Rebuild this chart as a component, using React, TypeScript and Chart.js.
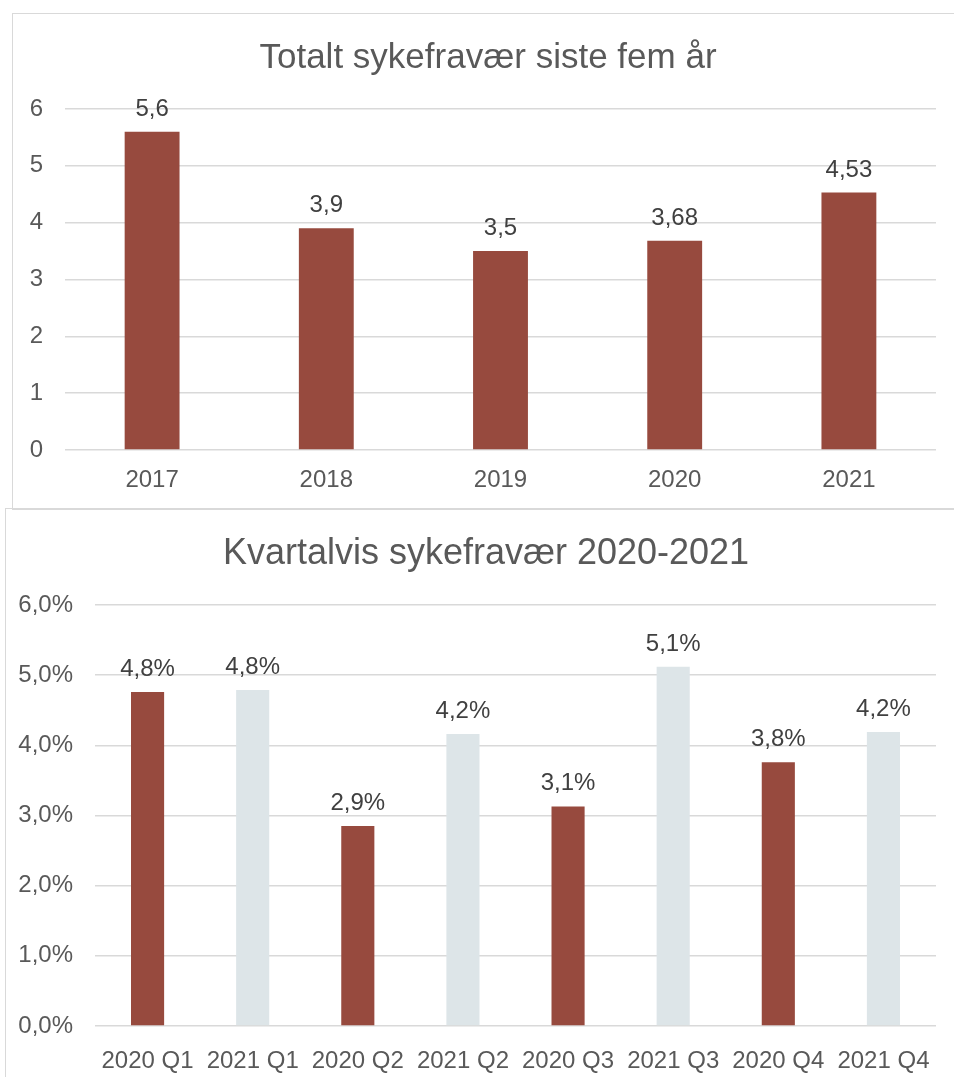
import React, { useEffect, useRef } from 'react';
import { Chart, registerables } from 'chart.js';

Chart.register(...registerables);

const FONT = '"Liberation Sans", Arial, sans-serif';
const TEXT = '#595959';
const LABEL = '#404040';
const GRID = '#D9D9D9';
const RED = '#974A3E';
const LIGHT = '#DDE5E8';

// ---- Chart 1 data ----
const yearTitle = 'Totalt sykefravær siste fem år';
const years = ['2017', '2018', '2019', '2020', '2021'];
const yearValues = [5.6, 3.9, 3.5, 3.68, 4.53];
const yearTicks = [0, 1, 2, 3, 4, 5, 6];

// ---- Chart 2 data ----
const quarterTitle = 'Kvartalvis sykefravær 2020-2021';
const quarters = ['2020 Q1', '2021 Q1', '2020 Q2', '2021 Q2', '2020 Q3', '2021 Q3', '2020 Q4', '2021 Q4'];
const quarterValues = [4.76, 4.79, 2.85, 4.16, 3.13, 5.12, 3.76, 4.19];
const quarterYears = ['2020', '2021', '2020', '2021', '2020', '2021', '2020', '2021'];

const comma = (v: number) => String(v).replace('.', ',');
const pct = (v: number) => v.toFixed(1).replace('.', ',') + '%';

const labelPlugin = {
  id: 'barLabels',
  afterDatasetsDraw(chart: any, _args: any, opts: any) {
    const { ctx } = chart;
    const meta = chart.getDatasetMeta(0);
    ctx.save();
    ctx.font = `24px ${FONT}`;
    ctx.fillStyle = LABEL;
    ctx.textAlign = 'center';
    ctx.textBaseline = 'alphabetic';
    meta.data.forEach((bar: any, i: number) => {
      ctx.fillText(opts.labels[i], bar.x, bar.y - opts.offset);
    });
    ctx.restore();
  },
};

const titlePlugin = {
  id: 'customTitle',
  afterDraw(chart: any, _args: any, opts: any) {
    const { ctx } = chart;
    ctx.save();
    ctx.font = `${opts.size}px ${FONT}`;
    ctx.fillStyle = TEXT;
    ctx.textAlign = 'center';
    ctx.textBaseline = 'alphabetic';
    ctx.fillText(opts.text, opts.x, opts.y);
    ctx.restore();
  },
};

function makeConfig(p: {
  labels: string[];
  values: number[];
  colors: string[];
  dataLabels: string[];
  tickFormat: (v: number) => string;
  title: string;
  titleSize: number;
  titleX: number;
  yWidth: number;
  xHeight: number;
  yPad: number;
  xPad: number;
}): any {
  return {
    type: 'bar',
    data: {
      labels: p.labels,
      datasets: [
        {
          data: p.values,
          backgroundColor: p.colors,
          borderWidth: 0,
          categoryPercentage: 1,
          barPercentage: 0.315,
        },
      ],
    },
    options: {
      responsive: false,
      animation: false,
      layout: { padding: { top: 95, right: 18, bottom: 0, left: 0 } },
      plugins: {
        legend: { display: false },
        title: { display: false },
        tooltip: { enabled: false },
        barLabels: { labels: p.dataLabels, offset: 16 },
        customTitle: { text: p.title, size: p.titleSize, x: p.titleX, y: 54 },
      },
      scales: {
        x: {
          grid: { display: false },
          border: { display: false },
          ticks: { color: TEXT, font: { family: FONT, size: 24 }, padding: p.xPad, maxRotation: 0, autoSkip: false },
          afterFit: (s: any) => { s.height = p.xHeight; },
        },
        y: {
          min: 0,
          max: 6,
          grid: { color: GRID, lineWidth: 1.5, drawTicks: false },
          border: { display: false },
          ticks: {
            stepSize: 1,
            color: TEXT,
            font: { family: FONT, size: 24 },
            padding: p.yPad,
            callback: (v: any) => p.tickFormat(Number(v)),
          },
          afterFit: (s: any) => { s.width = p.yWidth; },
        },
      },
    },
    plugins: [labelPlugin, titlePlugin],
  };
}

function BarChart({ config, width, height, left, top }: { config: any; width: number; height: number; left: number; top: number }) {
  const ref = useRef<HTMLCanvasElement>(null);
  useEffect(() => {
    if (!ref.current) return;
    const chart = new Chart(ref.current, config);
    return () => chart.destroy();
  }, [config]);
  return (
    <canvas
      ref={ref}
      width={width}
      height={height}
      style={{ position: 'absolute', left, top, width, height, display: 'block' }}
    />
  );
}

const topConfig = makeConfig({
  labels: years,
  values: yearValues,
  colors: years.map(() => RED),
  dataLabels: yearValues.map(comma),
  tickFormat: (v) => (yearTicks.includes(v) ? String(v) : ''),
  title: yearTitle,
  titleSize: 35,
  titleX: 475,
  yWidth: 52,
  xHeight: 58,
  yPad: 22,
  xPad: 8,
});

const bottomConfig = makeConfig({
  labels: quarters,
  values: quarterValues,
  colors: quarterYears.map((y) => (y === '2020' ? RED : LIGHT)),
  dataLabels: quarterValues.map(pct),
  tickFormat: pct,
  title: quarterTitle,
  titleSize: 36,
  titleX: 480,
  yWidth: 89,
  xHeight: 51,
  yPad: 22,
  xPad: 13,
});

export default function App() {
  return (
    <div style={{ position: 'absolute', left: 0, top: 0, width: 954, height: 1077, overflow: 'hidden', background: '#fff' }}>
      <div style={{ position: 'absolute', left: 12, top: 13, width: 1000, height: 495, border: `1.5px solid ${GRID}` }} />
      <div style={{ position: 'absolute', left: 5, top: 508, width: 1000, height: 1000, border: `1.5px solid ${GRID}` }} />
      <BarChart config={topConfig} width={941} height={494} left={13} top={14} />
      <BarChart config={bottomConfig} width={948} height={567} left={6} top={510} />
    </div>
  );
}
